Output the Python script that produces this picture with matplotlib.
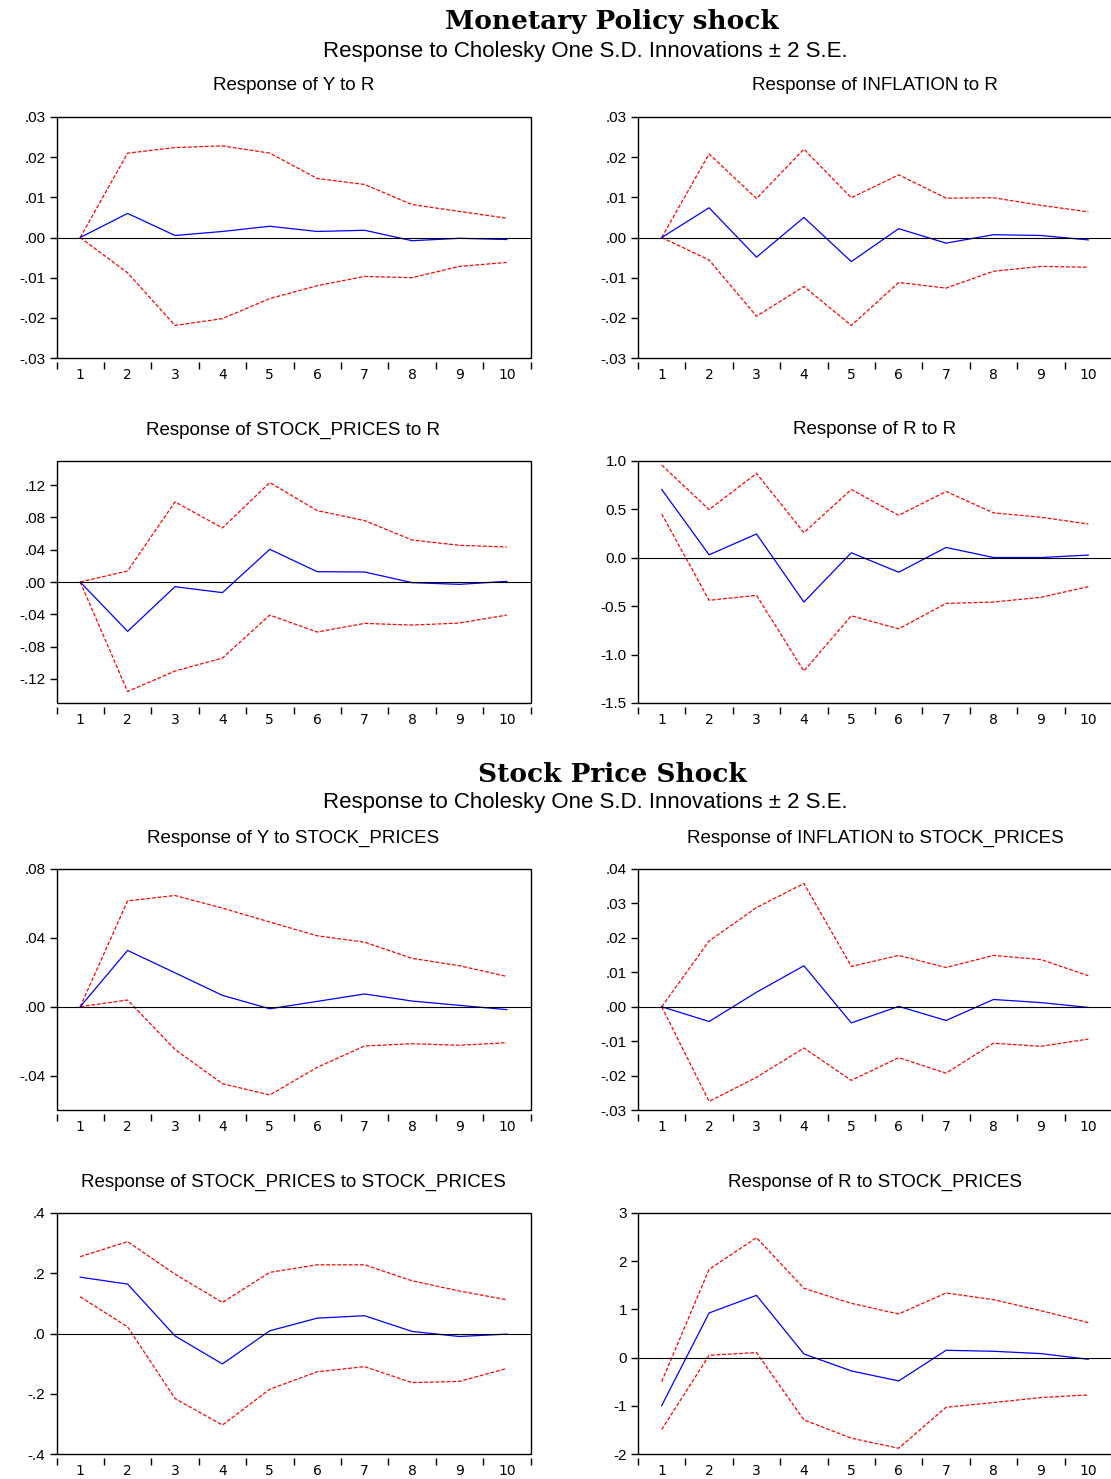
import matplotlib
matplotlib.use('Agg')
import matplotlib.pyplot as plt

# Periodos de la respuesta impulso
periods = list(range(1, 11))

# Choque de politica monetaria (R)
y_r = [0.0, 0.0060, 0.0005, 0.0015, 0.0028, 0.0015, 0.0018, -0.0008, -0.0002, -0.0005]
y_r_up = [0.0, 0.0210, 0.0224, 0.0228, 0.0210, 0.0147, 0.0132, 0.0082, 0.0065, 0.0048]
y_r_lo = [0.0, -0.0088, -0.0219, -0.0202, -0.0152, -0.0120, -0.0097, -0.0100, -0.0072, -0.0062]

inf_r = [0.0, 0.0074, -0.0049, 0.0050, -0.0060, 0.0022, -0.0014, 0.0007, 0.0005, -0.0006]
inf_r_up = [0.0, 0.0208, 0.0097, 0.0220, 0.0099, 0.0156, 0.0098, 0.0099, 0.0080, 0.0064]
inf_r_lo = [0.0, -0.0056, -0.0196, -0.0122, -0.0219, -0.0112, -0.0126, -0.0084, -0.0072, -0.0074]

sp_r = [0.0, -0.0612, -0.0058, -0.0132, 0.0405, 0.0128, 0.0124, -0.0008, -0.0029, 0.0008]
sp_r_up = [0.0, 0.0137, 0.0993, 0.0670, 0.1233, 0.0885, 0.0761, 0.0521, 0.0455, 0.0434]
sp_r_lo = [0.0, -0.1357, -0.1104, -0.0943, -0.0410, -0.0620, -0.0513, -0.0534, -0.0509, -0.0410]

r_r = [0.706, 0.031, 0.246, -0.457, 0.052, -0.149, 0.107, 0.003, 0.003, 0.028]
r_r_up = [0.958, 0.498, 0.872, 0.260, 0.706, 0.439, 0.685, 0.464, 0.419, 0.349]
r_r_lo = [0.453, -0.439, -0.388, -1.170, -0.599, -0.734, -0.471, -0.457, -0.408, -0.298]

# Choque de precios de acciones (STOCK_PRICES)
y_sp = [0.0, 0.0327, 0.0197, 0.0066, -0.0012, 0.0031, 0.0074, 0.0033, 0.0008, -0.0017]
y_sp_up = [0.0, 0.0615, 0.0646, 0.0573, 0.0492, 0.0412, 0.0375, 0.0281, 0.0238, 0.0176]
y_sp_lo = [0.0, 0.0039, -0.0248, -0.0447, -0.0513, -0.0352, -0.0228, -0.0215, -0.0224, -0.0209]

inf_sp = [0.0, -0.0043, 0.0042, 0.0119, -0.0047, 0.0001, -0.0040, 0.0021, 0.0012, -0.0002]
inf_sp_up = [0.0, 0.0191, 0.0288, 0.0358, 0.0117, 0.0149, 0.0114, 0.0149, 0.0137, 0.0090]
inf_sp_lo = [0.0, -0.0275, -0.0205, -0.0120, -0.0214, -0.0148, -0.0193, -0.0106, -0.0115, -0.0094]

sp_sp = [0.187, 0.164, -0.008, -0.101, 0.009, 0.051, 0.059, 0.007, -0.010, -0.002]
sp_sp_up = [0.255, 0.305, 0.197, 0.103, 0.203, 0.228, 0.228, 0.175, 0.141, 0.112]
sp_sp_lo = [0.122, 0.022, -0.216, -0.304, -0.185, -0.127, -0.110, -0.163, -0.159, -0.116]

r_sp = [-0.995, 0.926, 1.292, 0.076, -0.276, -0.484, 0.152, 0.131, 0.083, -0.035]
r_sp_up = [-0.498, 1.831, 2.488, 1.437, 1.126, 0.905, 1.341, 1.202, 0.974, 0.726]
r_sp_lo = [-1.493, 0.048, 0.104, -1.292, -1.672, -1.880, -1.030, -0.933, -0.829, -0.774]

# Etiquetas de los ejes y
ticks_03 = [-0.03, -0.02, -0.01, 0.0, 0.01, 0.02, 0.03]
labels_03 = ['-.03', '-.02', '-.01', '.00', '.01', '.02', '.03']
ticks_12 = [-0.12, -0.08, -0.04, 0.0, 0.04, 0.08, 0.12]
labels_12 = ['-.12', '-.08', '-.04', '.00', '.04', '.08', '.12']
ticks_rr = [-1.5, -1.0, -0.5, 0.0, 0.5, 1.0]
labels_rr = ['-1.5', '-1.0', '-0.5', '0.0', '0.5', '1.0']
ticks_08 = [-0.04, 0.0, 0.04, 0.08]
labels_08 = ['-.04', '.00', '.04', '.08']
ticks_04 = [-0.03, -0.02, -0.01, 0.0, 0.01, 0.02, 0.03, 0.04]
labels_04 = ['-.03', '-.02', '-.01', '.00', '.01', '.02', '.03', '.04']
ticks_4 = [-0.4, -0.2, 0.0, 0.2, 0.4]
labels_4 = ['-.4', '-.2', '.0', '.2', '.4']
ticks_3 = [-2, -1, 0, 1, 2, 3]
labels_3 = ['-2', '-1', '0', '1', '2', '3']

W, H = 1111, 1479
fig = plt.figure(figsize=(W / 100, H / 100), dpi=100)

sans = 'Liberation Sans'


def panel(x0, x1, top, bottom, title, mid, up, lo, ylim, ticks, labels):
    ax = fig.add_axes([x0 / W, 1 - bottom / H, (x1 - x0) / W, (bottom - top) / H])
    ax.plot(periods, up, color='red', lw=0.9, ls=(0, (3, 1.5)))
    ax.plot(periods, lo, color='red', lw=0.9, ls=(0, (3, 1.5)))
    ax.plot(periods, mid, color='blue', lw=0.9)
    ax.axhline(0, color='black', lw=0.8)
    ax.set_xlim(0.5, 10.5)
    ax.set_ylim(*ylim)
    ax.set_yticks(ticks)
    ax.set_yticklabels(labels, fontfamily=sans, fontsize=11)
    ax.set_xticks(periods)
    ax.set_xticklabels([str(p) for p in periods], fontfamily=sans, fontsize=11)
    ax.set_xticks([p - 0.5 for p in periods] + [10.5], minor=True)
    ax.tick_params(axis='x', which='major', length=0, pad=4.5)
    ax.tick_params(axis='x', which='minor', length=5, width=1, direction='out')
    ax.tick_params(axis='y', length=5, width=1, direction='out', pad=3)
    for s in ax.spines.values():
        s.set_visible(False)
    ax.spines['bottom'].set_position(('outward', 3))
    ax.patch.set_edgecolor('black')
    ax.patch.set_linewidth(1.0)
    fig.text((x0 + x1) / 2 / W, 1 - (top - 31) / H, title, ha='center', va='center',
             fontfamily=sans, fontsize=13.5)
    return ax


L0, L1 = 56.5, 530.5
R0, R1 = 638, 1112

panel(L0, L1, 117, 358, 'Response of Y to R', y_r, y_r_up, y_r_lo, (-0.03, 0.03), ticks_03, labels_03)
panel(R0, R1, 117, 358, 'Response of INFLATION to R', inf_r, inf_r_up, inf_r_lo, (-0.03, 0.03), ticks_03, labels_03)
panel(L0, L1, 461, 703, 'Response of STOCK_PRICES to R', sp_r, sp_r_up, sp_r_lo, (-0.15, 0.15), ticks_12, labels_12)
panel(R0, R1, 461, 703, 'Response of R to R', r_r, r_r_up, r_r_lo, (-1.5, 1.0), ticks_rr, labels_rr)

panel(L0, L1, 869, 1110, 'Response of Y to STOCK_PRICES', y_sp, y_sp_up, y_sp_lo, (-0.06, 0.08), ticks_08, labels_08)
panel(R0, R1, 869, 1110, 'Response of INFLATION to STOCK_PRICES', inf_sp, inf_sp_up, inf_sp_lo, (-0.03, 0.04), ticks_04, labels_04)
panel(L0, L1, 1213, 1454, 'Response of STOCK_PRICES to STOCK_PRICES', sp_sp, sp_sp_up, sp_sp_lo, (-0.4, 0.4), ticks_4, labels_4)
panel(R0, R1, 1213, 1454, 'Response of R to STOCK_PRICES', r_sp, r_sp_up, r_sp_lo, (-2, 3), ticks_3, labels_3)

# Titulos de cada bloque
subtitle = 'Response to Cholesky One S.D. Innovations \u00b1 2 S.E.'
fig.text(612 / W, 1 - 22 / H, 'Monetary Policy shock', ha='center', va='center',
         fontfamily='DejaVu Serif', fontweight='bold', fontsize=19)
fig.text(585 / W, 1 - 51 / H, subtitle, ha='center', va='center', fontfamily=sans, fontsize=16)
fig.text(612 / W, 1 - 775 / H, 'Stock Price Shock', ha='center', va='center',
         fontfamily='DejaVu Serif', fontweight='bold', fontsize=19)
fig.text(585 / W, 1 - 803 / H, subtitle, ha='center', va='center', fontfamily=sans, fontsize=16)

fig.savefig('out.png', dpi=100)
